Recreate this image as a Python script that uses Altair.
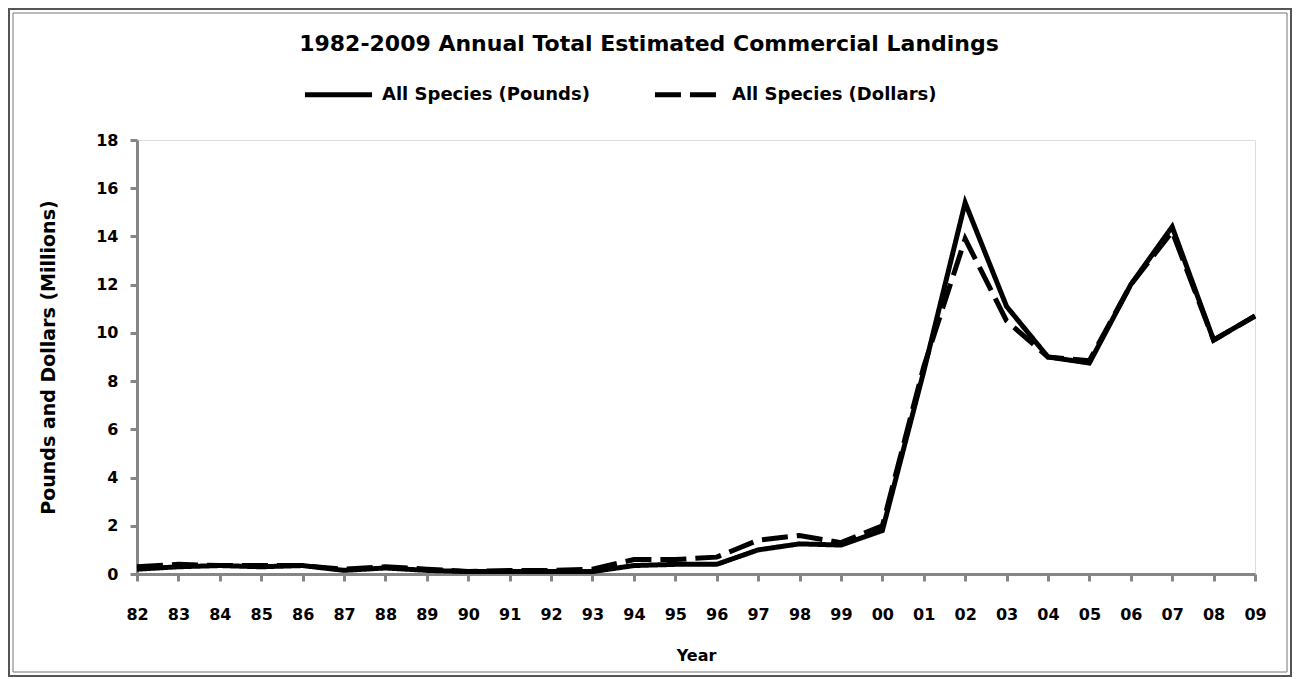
import altair as alt
import pandas as pd

years = ["82", "83", "84", "85", "86", "87", "88", "89", "90", "91", "92", "93", "94", "95",
         "96", "97", "98", "99", "00", "01", "02", "03", "04", "05", "06", "07", "08", "09"]
pounds = [0.2, 0.3, 0.35, 0.3, 0.35, 0.15, 0.25, 0.15, 0.1, 0.1, 0.1, 0.1, 0.35, 0.4,
          0.4, 1.0, 1.25, 1.2, 1.8, 8.4, 15.4, 11.1, 9.0, 8.75, 12.0, 14.4, 9.7, 10.7]
dollars = [0.3, 0.4, 0.35, 0.35, 0.35, 0.2, 0.3, 0.2, 0.1, 0.15, 0.15, 0.2, 0.6, 0.6,
           0.7, 1.4, 1.6, 1.3, 2.0, 8.6, 13.9, 10.5, 9.0, 8.85, 12.0, 14.2, 9.7, 10.7]
series = ["All Species (Pounds)", "All Species (Dollars)"]

rows = []
for i, y in enumerate(years):
    rows.append({"Year": y, "Series": series[0], "Value": pounds[i], "order": i})
    rows.append({"Year": y, "Series": series[1], "Value": dollars[i], "order": i})
df = pd.DataFrame(rows)

FONT = "DejaVu Sans"
W, H = 1118, 434
PL, PT, PR, PB = 129, 132, 37, 103

lines = alt.Chart(df).mark_line(strokeWidth=5, color="black", strokeCap="butt", strokeJoin="miter").encode(
    x=alt.X("Year:O", sort=years,
            scale=alt.Scale(type="point", padding=0),
            axis=alt.Axis(title="Year", labelAngle=0, labelFont=FONT, labelFontSize=16,
                          labelFontWeight="bold", labelColor="black", labelPadding=25,
                          domainColor="#868686", domainWidth=3, tickColor="#868686",
                          tickWidth=3, tickSize=7,
                          titleFont=FONT, titleFontSize=16, titleFontWeight="bold",
                          titleColor="black", titleY=81, titleBaseline="middle")),
    y=alt.Y("Value:Q",
            scale=alt.Scale(domain=[0, 18], nice=False),
            axis=alt.Axis(title="Pounds and Dollars (Millions)", values=list(range(0, 19, 2)),
                          grid=False, labelFont=FONT, labelFontSize=16, labelFontWeight="bold",
                          labelColor="black", labelPadding=12,
                          domainColor="#868686", domainWidth=3, tickColor="#868686",
                          tickWidth=3, tickSize=7,
                          titleFont=FONT, titleFontSize=19, titleFontWeight="bold",
                          titleColor="black", titleX=-89, titleY=H / 2,
                          titleAlign="center", titleBaseline="middle")),
    strokeDash=alt.StrokeDash("Series:N",
                              scale=alt.Scale(domain=series, range=[[1, 0], [26, 9]]),
                              legend=alt.Legend(title=None, orient="none", direction="horizontal",
                                                legendX=165, legendY=-82,
                                                symbolType="stroke", symbolSize=4500,
                                                symbolStrokeWidth=5, symbolStrokeColor="black",
                                                labelFont=FONT, labelFontSize=18,
                                                labelFontWeight="bold", labelColor="black",
                                                labelLimit=0,
                                                columnPadding=54, labelOffset=7)),
    detail="Series:N",
    order="order:Q",
)

frame_outer = alt.Chart(alt.Data(values=[{}])).mark_rect(
    fill="transparent", stroke="#555555", strokeWidth=2).encode(
    x=alt.value(-PL + 1), x2=alt.value(W + PR - 1),
    y=alt.value(-PT + 1), y2=alt.value(H + PB - 1))
frame_inner = alt.Chart(alt.Data(values=[{}])).mark_rect(
    fill="transparent", stroke="#777777", strokeWidth=1).encode(
    x=alt.value(-PL + 5), x2=alt.value(W + PR - 5),
    y=alt.value(-PT + 5), y2=alt.value(H + PB - 5))

chart = alt.layer(frame_outer, frame_inner, lines).properties(
    width=W, height=H,
    autosize=alt.AutoSizeParams(type="none"),
    padding={"left": PL, "top": PT, "right": PR, "bottom": PB},
    title=alt.Title("1982-2009 Annual Total Estimated Commercial Landings",
                    font=FONT, fontSize=22, fontWeight="bold", color="black",
                    anchor="middle", frame="group", offset=0, dx=-47, dy=48),
).configure_view(stroke=None).configure(background="white")

chart.save("out.html", embed_options={"renderer": "svg", "actions": False})
